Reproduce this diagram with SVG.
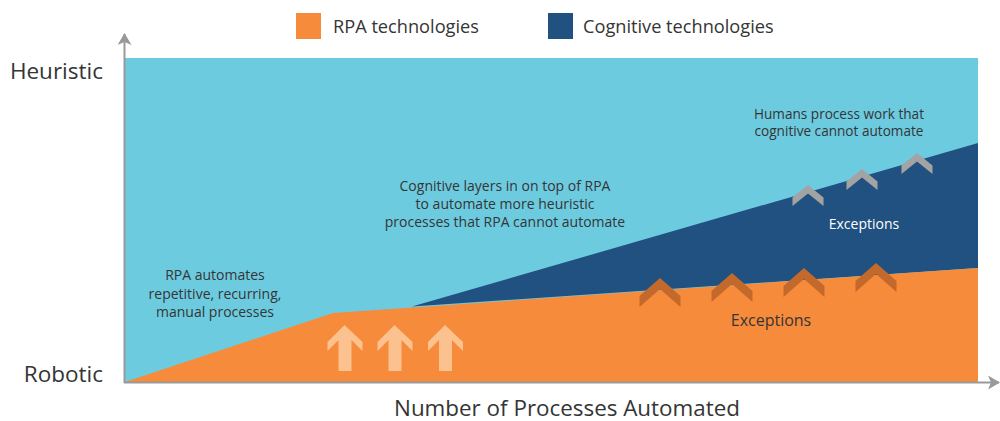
<svg xmlns="http://www.w3.org/2000/svg" width="1000" height="421" viewBox="0 0 1000 421">
<style>
text{font-family:"Open Sans","Liberation Sans",sans-serif;fill:#353535}
.lbl{font-size:14px}
.ax{font-size:22.5px}
.leg{font-size:18.2px}
.big{fill:#FBC18F}
.chev{fill:#C4692C}
.gchev{fill:#A3A3A3}
</style>
<defs>
<marker id="ah" markerWidth="12" markerHeight="14" refX="11" refY="7" orient="auto" markerUnits="userSpaceOnUse">
<path d="M0,0 L12,7 L0,14 L3,7 Z" fill="#999"/>
</marker>
<path id="bigArrow" d="M0,0 L18,17 L18,26 L7,15 L7,46 L-6,46 L-6,15 L-17,26 L-17,17 Z"/>
<path id="chevron" d="M0,0 L20.5,18 L20.5,29 L0,11 L-20.5,29 L-20.5,18 Z"/>
<path id="gchevron" d="M0,0 L15.5,12.5 L15.5,21 L0,8.5 L-15.5,21 L-15.5,12.5 Z"/>
</defs>
<g id="legend">
<rect x="296" y="13" width="25" height="26" fill="#F68B3B"/>
<text class="leg" x="333" y="33">RPA technologies</text>
<rect x="548" y="13" width="25" height="26" fill="#215180"/>
<text class="leg" x="583" y="33">Cognitive technologies</text>
</g>
<g id="area-heuristic">
<rect x="125" y="58" width="853" height="324" fill="#6DCBE0"/>
</g>
<g id="area-cognitive">
<polygon points="412,306.5 978,143 978,268 412,306.5" fill="#215180"/>
</g>
<g id="area-rpa">
<polygon points="125,382 333,313 978,268 978,382" fill="#F68B3B"/>
</g>
<g id="rpa-arrows">
<use href="#bigArrow" x="344.5" y="325" class="big"/>
<use href="#bigArrow" x="394.5" y="325" class="big"/>
<use href="#bigArrow" x="445" y="325" class="big"/>
</g>
<g id="rpa-exceptions">
<use href="#chevron" x="660" y="278" class="chev"/>
<use href="#chevron" x="732" y="273" class="chev"/>
<use href="#chevron" x="804" y="268" class="chev"/>
<use href="#chevron" x="876" y="263" class="chev"/>
<text x="771" y="326" text-anchor="middle" style="font-size:16px">Exceptions</text>
</g>
<g id="cognitive-exceptions">
<use href="#gchevron" x="808" y="185" class="gchev"/>
<use href="#gchevron" x="862" y="169" class="gchev"/>
<use href="#gchevron" x="917" y="153" class="gchev"/>
<text x="864" y="229" text-anchor="middle" class="lbl" style="fill:#ffffff">Exceptions</text>
</g>
<g id="connectors">
<line x1="124.5" y1="383" x2="124.5" y2="34" stroke="#999" stroke-width="2" marker-end="url(#ah)"/>
<line x1="124" y1="382.5" x2="999" y2="382.5" stroke="#999" stroke-width="2" marker-end="url(#ah)"/>
</g>
<g id="labels">
<text class="ax" x="103" y="79" text-anchor="end">Heuristic</text>
<text class="ax" x="103" y="382" text-anchor="end">Robotic</text>
<text x="567" y="416" text-anchor="middle" style="font-size:22.4px">Number of Processes Automated</text>
<text class="lbl" text-anchor="middle"><tspan x="215" y="280">RPA automates</tspan><tspan x="215" y="298.5">repetitive, recurring,</tspan><tspan x="215" y="317">manual processes</tspan></text>
<text class="lbl" text-anchor="middle"><tspan x="505" y="191">Cognitive layers in on top of RPA</tspan><tspan x="505" y="209">to automate more heuristic</tspan><tspan x="505" y="227">processes that RPA cannot automate</tspan></text>
<text text-anchor="middle" style="font-size:13.6px"><tspan x="839" y="118.5">Humans process work that</tspan><tspan x="839" y="136">cognitive cannot automate</tspan></text>
</g>
</svg>
